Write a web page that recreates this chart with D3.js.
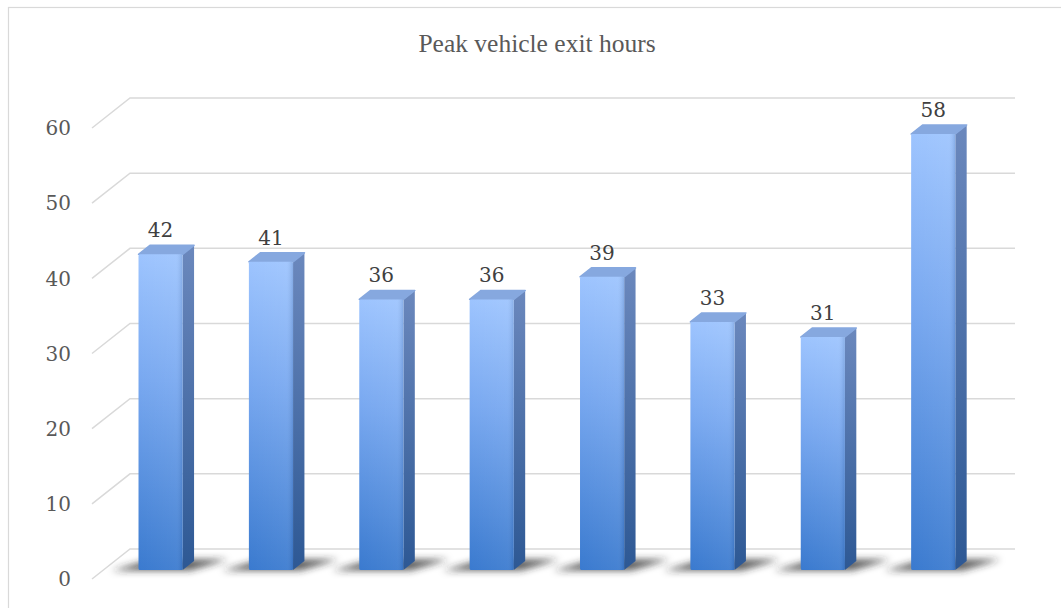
<!DOCTYPE html>
<html>
<head>
<meta charset="utf-8">
<script src="https://cdn.jsdelivr.net/npm/d3@7"></script>
<style>
  html, body { margin: 0; padding: 0; background: #fff; }
  svg { display: block; }
</style>
</head>
<body>
<svg id="chart" width="1061" height="608"></svg>
<script>
const title = "Peak vehicle exit hours";
const categories = ["1", "2", "3", "4", "5", "6", "7", "8"];
const values = [42, 41, 36, 36, 39, 33, 31, 58];
const yTicks = [0, 10, 20, 30, 40, 50, 60];

const svg = d3.select("#chart");
const W = 1061, H = 608;

// chart area border
svg.append("rect")
  .attr("x", 8.5).attr("y", 7.5)
  .attr("width", W + 20).attr("height", H + 20)
  .attr("fill", "#fff").attr("stroke", "#d9d9d9").attr("stroke-width", 1.2);

// title
svg.append("text")
  .attr("x", 537).attr("y", 52)
  .attr("text-anchor", "middle")
  .attr("font-family", "'Liberation Serif', 'Times New Roman', serif")
  .attr("font-size", 25.5)
  .attr("fill", "#595959")
  .text(title);

// 3D projection setup
const DX = 38, DY = 30;           // full depth offset
const plotX0 = 92, plotX1 = 977;  // front plane horizontal extent
const y = d3.scaleLinear().domain([0, 60]).range([579, 128]);
const x = d3.scaleBand().domain(categories).range([94, 977])
  .paddingInner(0.6).paddingOuter(0.3);
const P = (xf, v, z) => [xf + z * DX, y(v) - z * DY];

const defs = svg.append("defs");
const gFront = defs.append("linearGradient").attr("id", "gFront")
  .attr("x1", 0).attr("y1", 0).attr("x2", 0).attr("y2", 1);
gFront.append("stop").attr("offset", "0%").attr("stop-color", "#9dc4fe");
gFront.append("stop").attr("offset", "40%").attr("stop-color", "#78a8f0");
gFront.append("stop").attr("offset", "100%").attr("stop-color", "#3a7acf");
const gSide = defs.append("linearGradient").attr("id", "gSide")
  .attr("x1", 0).attr("y1", 0).attr("x2", 0).attr("y2", 1);
gSide.append("stop").attr("offset", "0%").attr("stop-color", "#6b88bd");
gSide.append("stop").attr("offset", "100%").attr("stop-color", "#2d5894");
const gFrontH = defs.append("linearGradient").attr("id", "gFrontH")
  .attr("x1", 0).attr("y1", 0).attr("x2", 1).attr("y2", 0);
gFrontH.append("stop").attr("offset", "0%").attr("stop-color", "#ffffff").attr("stop-opacity", 0.0);
gFrontH.append("stop").attr("offset", "85%").attr("stop-color", "#ffffff").attr("stop-opacity", 0.06);
gFrontH.append("stop").attr("offset", "100%").attr("stop-color", "#1d3f75").attr("stop-opacity", 0.18);
const blur = defs.append("filter").attr("id", "blur")
  .attr("x", "-50%").attr("y", "-100%").attr("width", "200%").attr("height", "300%");
blur.append("feGaussianBlur").attr("stdDeviation", 3.5);

// gridlines (floor/back wall perspective)
const line = d3.line();
svg.append("g").selectAll("path").data(yTicks).join("path")
  .attr("d", v => line([P(plotX0, v, 0), P(plotX0, v, 1), P(plotX1, v, 1)]))
  .attr("fill", "none").attr("stroke", "#d9d9d9").attr("stroke-width", 1.5);

// y tick labels
svg.append("g").selectAll("text").data(yTicks).join("text")
  .attr("x", 71).attr("y", v => y(v))
  .attr("dy", "0.36em")
  .attr("text-anchor", "end")
  .attr("font-family", "'DejaVu Serif', serif")
  .attr("font-size", 20)
  .attr("fill", "#595959")
  .text(d => d);

const z0 = 0.3, z1 = 0.6;
const data = categories.map((c, i) => ({ c, v: values[i] }));

// shadows
svg.append("g").attr("filter", "url(#blur)").selectAll("path").data(data).join("path")
  .attr("d", d => {
    const xl = x(d.c), xr = x(d.c) + x.bandwidth();
    const f0 = P(xl, 0, z0 - 0.02), f1 = P(xr, 0, z0 - 0.02);
    const b1 = P(xr, 0, z1 + 0.05), b0 = P(xl, 0, z1 + 0.05);
    return line([[f0[0] - 26, f0[1]], [f1[0] + 8, f1[1]], [b1[0] + 32, b1[1]], [b0[0], b0[1]]]) + "Z";
  })
  .attr("fill", "#2a2a2a").attr("opacity", 0.75);

const bars = svg.append("g").selectAll("g").data(data).join("g");
// side face
bars.append("path")
  .attr("d", d => {
    const xr = x(d.c) + x.bandwidth();
    return line([P(xr, d.v, z0), P(xr, d.v, z1), P(xr, 0, z1), P(xr, 0, z0)]) + "Z";
  })
  .attr("fill", "url(#gSide)");
// top face
bars.append("path")
  .attr("d", d => {
    const xl = x(d.c), xr = x(d.c) + x.bandwidth();
    return line([P(xl, d.v, z0), P(xr, d.v, z0), P(xr, d.v, z1), P(xl, d.v, z1)]) + "Z";
  })
  .attr("fill", "#86a8df")
  .attr("stroke", "#86a8df").attr("stroke-width", 1.5).attr("stroke-linejoin", "round");
// front face
bars.append("rect")
  .attr("x", d => P(x(d.c), d.v, z0)[0])
  .attr("y", d => P(x(d.c), d.v, z0)[1])
  .attr("width", x.bandwidth())
  .attr("height", d => y(0) - y(d.v))
  .attr("rx", 1.5)
  .attr("fill", "url(#gFront)");
bars.append("rect")
  .attr("x", d => P(x(d.c), d.v, z0)[0])
  .attr("y", d => P(x(d.c), d.v, z0)[1])
  .attr("width", x.bandwidth())
  .attr("height", d => y(0) - y(d.v))
  .attr("rx", 1.5)
  .attr("fill", "url(#gFrontH)");

// data labels
bars.append("text")
  .attr("x", d => P(x(d.c) + x.bandwidth() / 2, d.v, z0)[0])
  .attr("y", d => P(x(d.c), d.v, z1)[1] - 8)
  .attr("text-anchor", "middle")
  .attr("font-family", "'DejaVu Serif', serif")
  .attr("font-size", 20)
  .attr("fill", "#404040")
  .text(d => d.v);
</script>
</body>
</html>
